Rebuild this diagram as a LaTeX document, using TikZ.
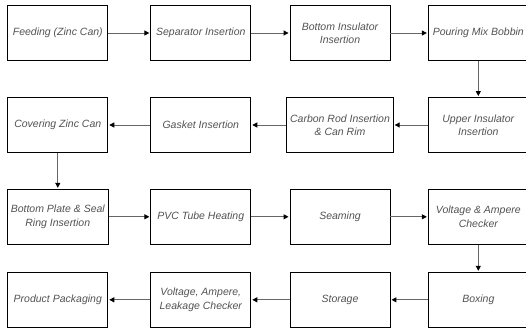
\documentclass[tikz,border=0pt]{standalone}
\usepackage{fontspec}
\setmainfont{Liberation Sans}
\usepackage{tikz}
\usetikzlibrary{arrows.meta}

\begin{document}
\begin{tikzpicture}[x=1pt, y=-1pt,
    box/.style={draw, line width=0.9pt, minimum width=100pt, minimum height=55pt,
        align=center, text=black!68, font=\fontsize{10.5}{13.3}\selectfont\itshape},
    flow/.style={draw=black!60, line width=1pt, shorten >=1pt,
        -{Triangle[length=5pt, width=5pt, color=black]}}]
            \useasboundingbox (0,0) rectangle (526,330);
            % row 1
            \node[box] (a) at (57.8, 33) {Feeding (Zinc Can)};
            \node[box] (b) at (200.8, 33) {Separator Insertion};
            \node[box] (c) at (340, 33) {Bottom Insulator\\Insertion};
            \node[box] (d) at (478.3, 33) {Pouring Mix Bobbin};
            % row 2
            \node[box] (e) at (478.3, 125) {Upper Insulator\\Insertion};
            \node[box] (f) at (340, 125) {Carbon Rod Insertion\\\& Can Rim};
            \node[box] (g) at (200.8, 125) {Gasket Insertion};
            \node[box] (h) at (57.8, 125) {Covering Zinc Can};
            % row 3
            \node[box] (i) at (57.8, 216.8) {Bottom Plate \& Seal\\Ring Insertion};
            \node[box] (j) at (200.8, 216.8) {PVC Tube Heating};
            \node[box] (k) at (340, 216.8) {Seaming};
            \node[box] (l) at (478.3, 216.8) {Voltage \& Ampere\\Checker};
            % row 4
            \node[box] (m) at (478.3, 299.8) {Boxing};
            \node[box] (n) at (340, 299.8) {Storage};
            \node[box] (o) at (200.8, 299.8) {Voltage, Ampere,\\Leakage Checker};
            \node[box] (p) at (57.8, 299.8) {Product Packaging};
            \draw[flow] (a) -- (b);
            \draw[flow] (b) -- (c);
            \draw[flow] (c) -- (d);
            \draw[flow] (d) -- (e);
            \draw[flow] (e) -- (f);
            \draw[flow] (f) -- (g);
            \draw[flow] (g) -- (h);
            \draw[flow] (h) -- (i);
            \draw[flow] (i) -- (j);
            \draw[flow] (j) -- (k);
            \draw[flow] (k) -- (l);
            \draw[flow] (l) -- (m);
            \draw[flow] (m) -- (n);
            \draw[flow] (n) -- (o);
            \draw[flow] (o) -- (p);
        \end{tikzpicture}
\end{document}
